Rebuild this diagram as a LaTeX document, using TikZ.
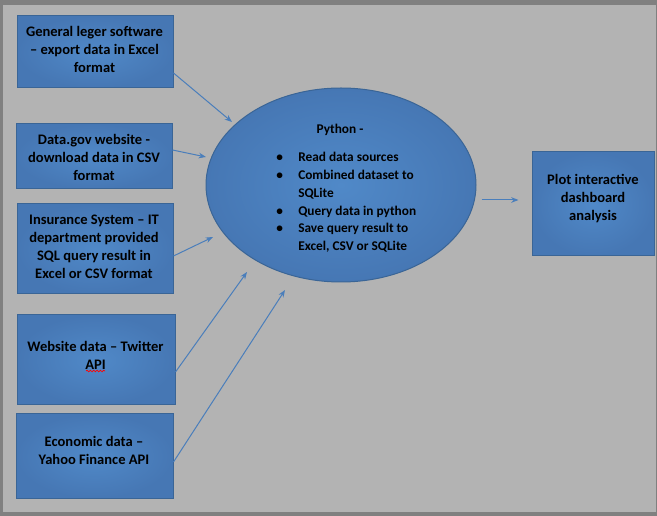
\documentclass[tikz,border=0pt]{standalone}
\usepackage{fontspec}
\setmainfont{Carlito}
\usetikzlibrary{arrows.meta,calc,decorations.pathmorphing,shapes.geometric}
\definecolor{frame}{HTML}{808080}
\definecolor{paper}{HTML}{B3B3B3}
\definecolor{boxin}{HTML}{5089C8}
\definecolor{boxout}{HTML}{4677B4}
\definecolor{boxline}{HTML}{3A6596}
\definecolor{arrowc}{HTML}{4A7EBB}
\tikzset{
  blk/.style={draw=boxline, line width=0.75pt, inner color=boxin, outer color=boxout, inner sep=0pt},
  sz/.style 2 args={minimum width={#1*0.75pt}, minimum height={#2*0.75pt}},
  txt/.style={font=\fontsize{10pt}{13.3pt}\selectfont\bfseries, align=center, inner sep=0pt, text=black},
  btxt/.style={txt, font=\fontsize{10.9pt}{13.5pt}\selectfont\bfseries},
  conn/.style={draw=arrowc, line width=0.75pt, -{Stealth[length=5.5pt,width=4.2pt]}}
}
\begin{document}
\begin{tikzpicture}[x=0.75pt,y=-0.75pt]
\useasboundingbox (0,0) rectangle (657,516);
\fill[frame] (0,0) rectangle (657,516);
\fill[paper] (3,5) rectangle (656,512);

% boxes
\node[blk, sz={156}{72}] (b1) at (95,52) {};
\node[blk, sz={156}{65}] (b2) at (94,156.5) {};
\node[blk, sz={156}{90}] (b3) at (95,249) {};
\node[blk, sz={158}{90}] (b4) at (96,360) {};
\node[blk, sz={157}{84}] (b5) at (94.5,456) {};
\node[blk, sz={122}{104}] (out) at (593,204) {};
\node[blk, ellipse, sz={270}{194}] (py) at (341,185) {};

% texts
\node[btxt] (t1) at (94.5,49.5) {General leger software\\– export data in Excel\\format};
\node[btxt] (t2) at (94,157.5) {Data.gov website -\\download data in CSV\\format};
\node[btxt] (t3) at (94,246.5) {Insurance System – IT\\department provided\\SQL query result in\\Excel or CSV format};
\node[btxt] (t4) at (95.5,355) {Website data – Twitter\\API};
\node[btxt] (t5) at (94,450.5) {Economic data –\\Yahoo Finance API};
\node[btxt] (t6) at (593,198.5) {Plot interactive\\dashboard\\analysis};
\node[txt] (tp) at (340,130) {Python -};
\node[txt, align=left, anchor=west] (list) at (276,202.5)
 {\makebox[16.5pt][l]{•}Read data sources\\
  \makebox[16.5pt][l]{•}Combined dataset to\\
  \hspace*{16.5pt}SQLite\\
  \makebox[16.5pt][l]{•}Query data in python\\
  \makebox[16.5pt][l]{•}Save query result to\\
  \hspace*{16.5pt}Excel, CSV or SQLite};

% spell-check squiggle under API
\coordinate (sq1) at (86,371);
\coordinate (sq2) at (105,371);
\draw[red, line width=0.5pt, decorate, decoration={snake, amplitude=0.6pt, segment length=2.5pt}] (sq1) -- (sq2);

% connectors
\draw[conn] ($(b1.east)+(0,21)$) -- ($(py.center)+(-109,-63)$);
\draw[conn] ($(b2.east)+(0,-6.5)$) -- ($(py.center)+(-135,-28)$);
\draw[conn] ($(b3.east)+(0,7)$) -- ($(py.center)+(-128,52)$);
\draw[conn] ($(b4.east)+(0,12)$) -- ($(py.center)+(-94,87)$);
\draw[conn] ($(b5.east)+(0,6)$) -- ($(py.center)+(-56,105)$);
\draw[conn] ($(py.east)+(5,15)$) -- ($(out.west)+(-13,-4)$);
\end{tikzpicture}
\end{document}
